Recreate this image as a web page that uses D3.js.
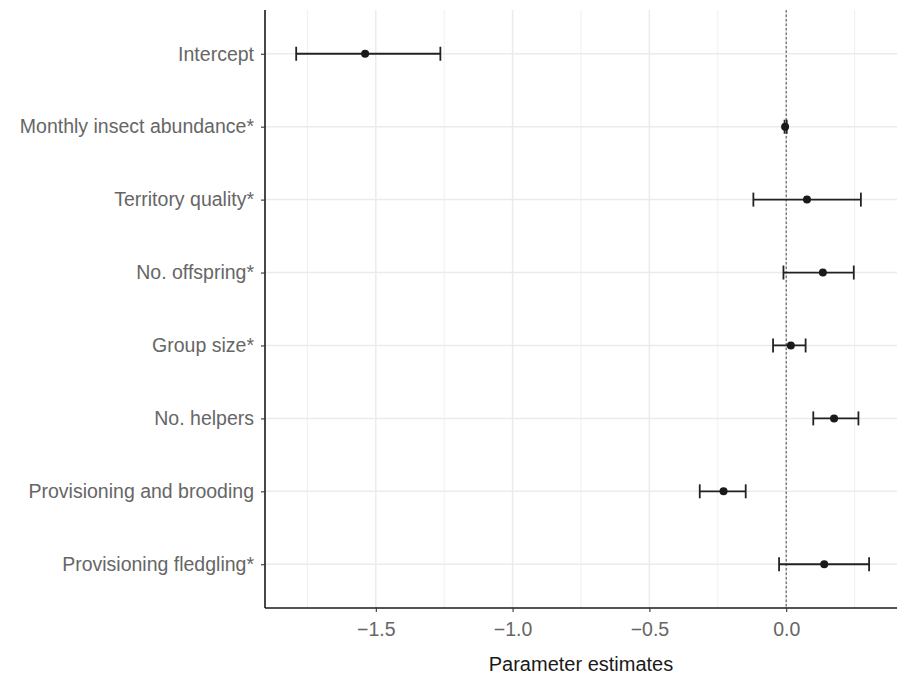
<!DOCTYPE html>
<html>
<head>
<meta charset="utf-8">
<script src="https://cdn.jsdelivr.net/npm/d3@7"></script>
<style>
  body { margin: 0; background: #fff; }
  svg { display: block; font-family: "Liberation Sans", Arial, sans-serif; }
</style>
</head>
<body>
<svg id="chart" width="901" height="675"></svg>
<script>
const categories = [
  "Intercept",
  "Monthly insect abundance*",
  "Territory quality*",
  "No. offspring*",
  "Group size*",
  "No. helpers",
  "Provisioning and brooding",
  "Provisioning fledgling*"
];
const estimates = [-1.539, -0.004, 0.076, 0.134, 0.017, 0.175, -0.229, 0.139];
const lowerCI   = [-1.791, -0.006, -0.120, -0.010, -0.048, 0.099, -0.316, -0.026];
const upperCI   = [-1.264, 0.002, 0.273, 0.247, 0.071, 0.264, -0.148, 0.303];
const xTicks = [-1.5, -1.0, -0.5, 0.0];
const xMinorTicks = [-1.75, -1.25, -0.75, -0.25, 0.25];

const svg = d3.select("#chart");
const margin = { left: 265, right: 4, top: 10, bottom: 67 };
const W = 901, H = 675;
const x = d3.scaleLinear().domain([-1.905, 0.405]).range([margin.left, W - margin.right]);
const y = d3.scalePoint().domain(categories).range([margin.top, H - margin.bottom]).padding(0.6);

const g = svg.append("g");

// minor gridlines
g.selectAll(".minor").data(xMinorTicks).join("line")
  .attr("x1", d => x(d)).attr("x2", d => x(d))
  .attr("y1", margin.top).attr("y2", H - margin.bottom)
  .attr("stroke", "#ebebeb").attr("stroke-width", 0.8);
// major gridlines
g.selectAll(".majorx").data(xTicks).join("line")
  .attr("x1", d => x(d)).attr("x2", d => x(d))
  .attr("y1", margin.top).attr("y2", H - margin.bottom)
  .attr("stroke", "#ebebeb").attr("stroke-width", 1.5);
g.selectAll(".majory").data(categories).join("line")
  .attr("x1", margin.left).attr("x2", W - margin.right)
  .attr("y1", d => y(d)).attr("y2", d => y(d))
  .attr("stroke", "#ebebeb").attr("stroke-width", 1.5);

// zero reference line
g.append("line")
  .attr("x1", x(0)).attr("x2", x(0))
  .attr("y1", margin.top).attr("y2", H - margin.bottom)
  .attr("stroke", "#222").attr("stroke-width", 0.8)
  .attr("stroke-dasharray", "2.5,2");

// error bars
const rows = categories.map((c, i) => ({ c, est: estimates[i], lo: lowerCI[i], hi: upperCI[i] }));
const eb = g.selectAll(".eb").data(rows).join("g");
eb.append("line")
  .attr("x1", d => x(d.lo)).attr("x2", d => x(d.hi))
  .attr("y1", d => y(d.c)).attr("y2", d => y(d.c))
  .attr("stroke", "#222").attr("stroke-width", 1.8);
eb.append("line")
  .attr("x1", d => x(d.lo)).attr("x2", d => x(d.lo))
  .attr("y1", d => y(d.c) - 7).attr("y2", d => y(d.c) + 7)
  .attr("stroke", "#222").attr("stroke-width", 1.8);
eb.append("line")
  .attr("x1", d => x(d.hi)).attr("x2", d => x(d.hi))
  .attr("y1", d => y(d.c) - 7).attr("y2", d => y(d.c) + 7)
  .attr("stroke", "#222").attr("stroke-width", 1.8);
eb.append("circle")
  .attr("cx", d => x(d.est)).attr("cy", d => y(d.c))
  .attr("r", 4).attr("fill", "#1a1a1a");

// axes
const xAxis = d3.axisBottom(x).tickValues(xTicks).tickSize(4)
  .tickFormat(d => d3.format(".1f")(d).replace("-", "\u2212"));
const xa = svg.append("g").attr("transform", `translate(0,${H - margin.bottom})`).call(xAxis);
xa.select(".domain").attr("stroke", "#1a1a1a").attr("stroke-width", 1.6)
  .attr("d", `M${margin.left},0H${W - margin.right}`);
xa.selectAll(".tick line").attr("stroke", "#333").attr("stroke-width", 1.1);
xa.selectAll(".tick text").attr("fill", "#666").style("font-size", "19.5px")
  .attr("y", 28).attr("dy", 0);

const yAxis = d3.axisLeft(y).tickSize(4).tickPadding(7);
const ya = svg.append("g").attr("transform", `translate(${margin.left},0)`).call(yAxis);
ya.select(".domain").attr("stroke", "#1a1a1a").attr("stroke-width", 1.6)
  .attr("d", `M0,${margin.top}V${H - margin.bottom}`);
ya.selectAll(".tick line").attr("stroke", "#333").attr("stroke-width", 1.1);
ya.selectAll(".tick text").attr("fill", "#666").style("font-size", "19.5px");

svg.append("text")
  .attr("x", (margin.left + W - margin.right) / 2)
  .attr("y", 671)
  .attr("text-anchor", "middle")
  .attr("fill", "#1a1a1a")
  .style("font-size", "20px")
  .text("Parameter estimates");
</script>
</body>
</html>
